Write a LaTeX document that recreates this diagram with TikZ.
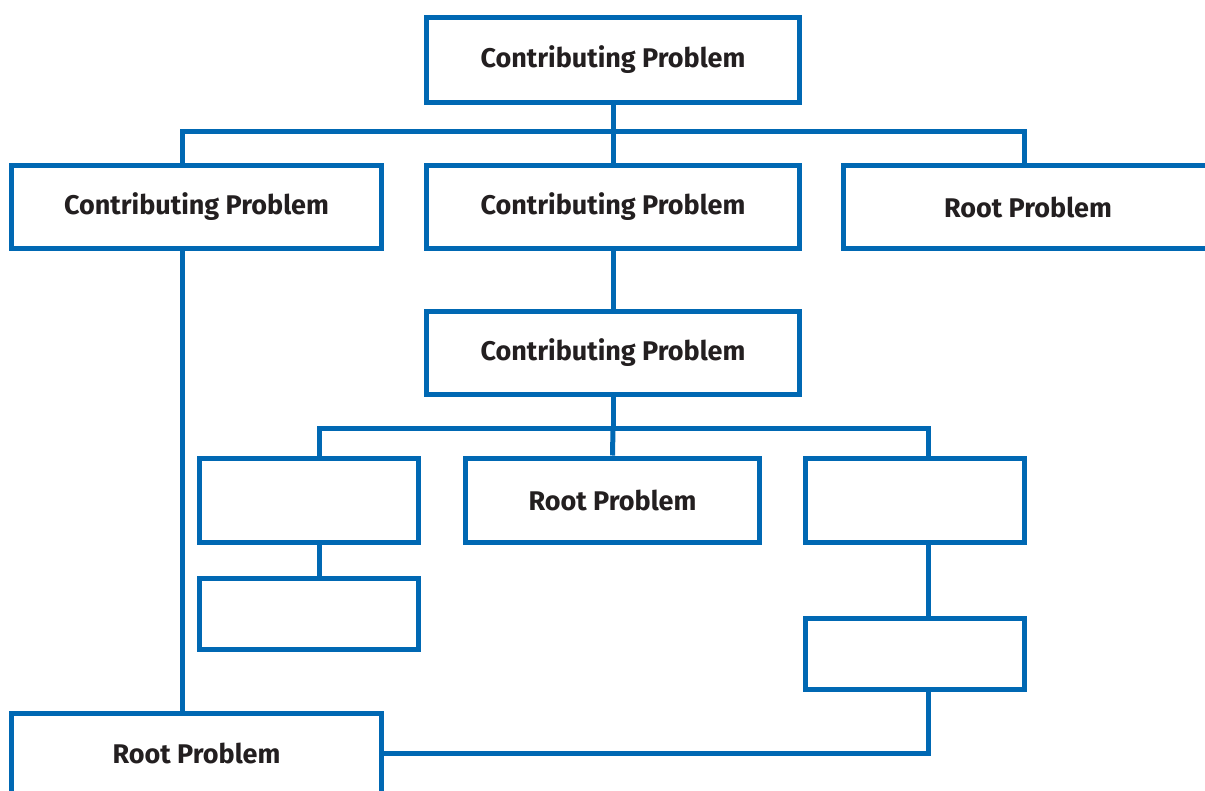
\documentclass[tikz,border=0pt]{standalone}
\usepackage{fontspec}
\setmainfont{Fira Sans}
\definecolor{boxblue}{RGB}{0,104,179}
\definecolor{txt}{RGB}{35,31,32}
\tikzset{
  pbox/.style={draw=boxblue, line width=5pt, fill=white, inner sep=0pt,
    minimum height=85pt, text=txt, font=\bfseries\fontsize{27}{32}\selectfont},
  link/.style={draw=boxblue, line width=5pt}
}
\begin{document}
\begin{tikzpicture}[x=1pt,y=-1pt]
\clip (0,0) rectangle (1205,790);
\fill[white] (0,0) rectangle (1205,790);
% nodes
\node[pbox, minimum width=373pt] (top) at (613,60) {Contributing Problem};
\node[pbox, minimum width=370pt, minimum height=83pt] (l2) at (196.5,207) {Contributing Problem};
\node[pbox, minimum width=373pt, minimum height=83pt] (m2) at (613,207) {Contributing Problem};
\node[pbox, minimum width=370pt, minimum height=83pt] (r2) at (1028,207) {Root Problem};
\node[pbox, minimum width=373pt, minimum height=83pt] (mid) at (613,353) {Contributing Problem};
\node[pbox, minimum width=219pt, minimum height=84pt] (l3) at (309,500) {};
\node[pbox, minimum width=294pt, minimum height=84pt] (m3) at (612.5,500) {Root Problem};
\node[pbox, minimum width=219pt, minimum height=84pt] (r3) at (915,500) {};
\node[pbox, minimum width=219pt, minimum height=71pt] (l4) at (309,613.5) {};
\node[pbox, minimum width=219pt, minimum height=71pt] (r4) at (915,653.5) {};
\node[pbox, minimum width=370pt, minimum height=80pt] (bot) at (196.5,753.5) {Root Problem};
% bus coordinates
\coordinate (b1) at (613,131);
\coordinate (b2) at (613,428);
% connectors
\draw[link] (top.south) -- (b1);
\draw[link] (182,131 |- l2.north) -- (182,131) -- (1024,131) -- (1024,131 |- r2.north);
\draw[link] (b1) -- (m2.north);
\draw[link] (m2.south) -- (mid.north);
\draw[link] (182,0 |- l2.south) -- (182,0 |- bot.north);
\draw[link] (mid.south) -- (b2);
\draw[link] (319,0 |- l3.north) -- (319,428) -- (928,428) -- (928,0 |- r3.north);
\draw[link] (b2) -- (m3.north);
\draw[link] (319,0 |- l3.south) -- (319,0 |- l4.north);
\draw[link] (928,0 |- r3.south) -- (928,0 |- r4.north);
\draw[link] (928,0 |- r4.south) -- (928,753) -- (bot.east |- 0,753);
\end{tikzpicture}
\end{document}
